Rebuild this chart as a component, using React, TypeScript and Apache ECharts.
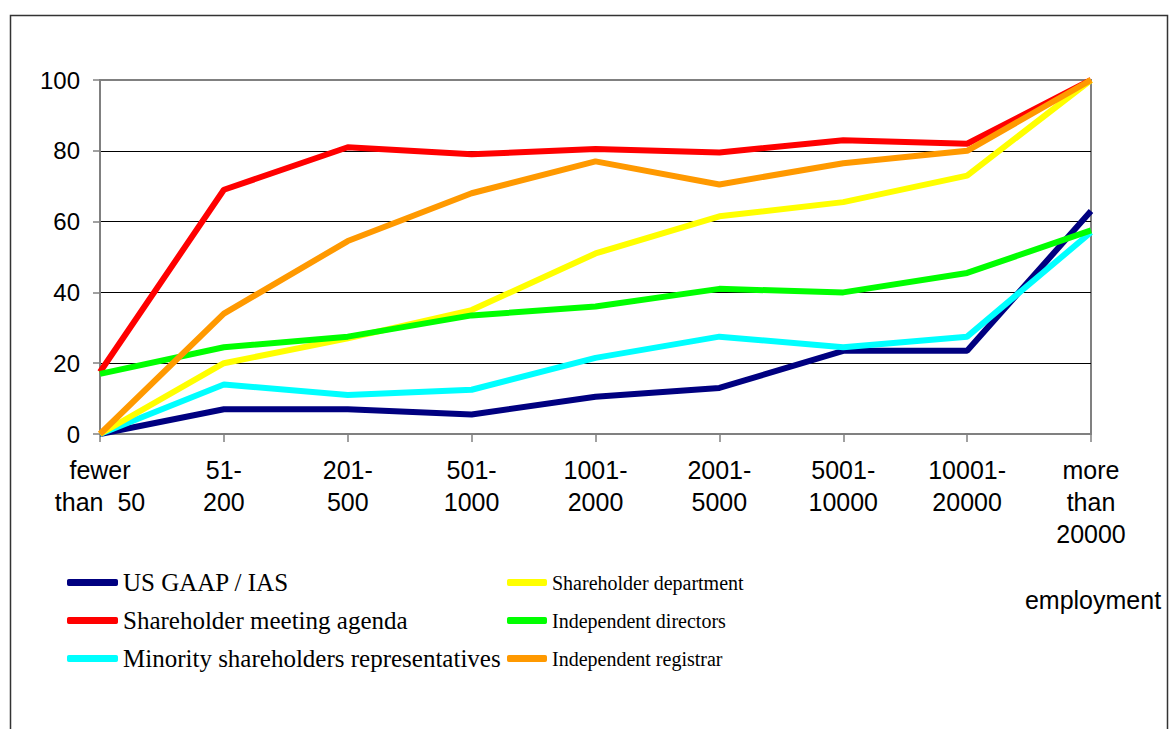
import React, { useEffect, useRef } from "react";
import * as echarts from "echarts";

const categories = [
  "fewer\nthan  50",
  "51-\n200",
  "201-\n500",
  "501-\n1000",
  "1001-\n2000",
  "2001-\n5000",
  "5001-\n10000",
  "10001-\n20000",
  "more\nthan\n20000",
];
const usGaap = [0, 7, 7, 5.5, 10.5, 13, 23.5, 23.5, 63];
const meetingAgenda = [17.5, 69, 81, 79, 80.5, 79.5, 83, 82, 100];
const minorityReps = [0, 14, 11, 12.5, 21.5, 27.5, 24.5, 27.5, 57];
const shareholderDept = [0, 20, 27, 35, 51, 61.5, 65.5, 73, 100];
const independentDirectors = [17, 24.5, 27.5, 33.5, 36, 41, 40, 45.5, 57.5];
const independentRegistrar = [0, 34, 54.5, 68, 77, 70.5, 76.5, 80, 100];
const yTicks = { min: 0, max: 100, interval: 20 };

export default function App() {
  const ref = useRef<HTMLDivElement>(null);
  useEffect(() => {
    if (!ref.current) return;
    const chart = echarts.init(ref.current, null, { renderer: "svg" });
    const mk = (name: string, data: number[], color: string) => ({
      name,
      type: "line",
      data,
      color,
      symbol: "none",
      showSymbol: false,
      lineStyle: { width: 6, color },
      itemStyle: { color },
      z: 2,
    });
    const legendText = (size: number) => ({
      fontFamily: "Liberation Serif",
      fontSize: size,
      color: "#000",
      lineHeight: 25,
    });
    chart.setOption({
      animation: false,
      backgroundColor: "#fff",
      grid: {
        left: 100,
        top: 80,
        right: 78,
        bottom: 295,
        show: true,
        borderColor: "#808080",
        borderWidth: 2,
      },
      xAxis: {
        type: "category",
        data: categories,
        boundaryGap: false,
        axisLine: { lineStyle: { color: "#808080", width: 2 } },
        axisTick: { show: true, length: 8, lineStyle: { color: "#808080", width: 1.5 } },
        axisLabel: {
          color: "#000",
          fontFamily: "Liberation Sans",
          fontSize: 25,
          lineHeight: 32,
          margin: 20,
          interval: 0,
        },
        splitLine: { show: false },
      },
      yAxis: {
        type: "value",
        min: yTicks.min,
        max: yTicks.max,
        interval: yTicks.interval,
        axisLine: { show: true, lineStyle: { color: "#808080", width: 2 } },
        axisTick: { show: true, length: 7, lineStyle: { color: "#808080", width: 1.5 } },
        axisLabel: {
          color: "#000",
          fontFamily: "Liberation Sans",
          fontSize: 24,
          margin: 20,
        },
        splitLine: {
          show: true,
          lineStyle: {
            color: ["#808080", "#000", "#000", "#000", "#000", "#808080"],
            width: 1,
          },
        },
      },
      legend: [
        {
          orient: "vertical",
          left: 67,
          top: 570,
          padding: 0,
          itemWidth: 51,
          itemHeight: 7,
          itemGap: 13,
          icon: "roundRect",
          textStyle: legendText(25),
          data: ["US GAAP / IAS", "Shareholder meeting agenda", "Minority shareholders representatives"],
        },
        {
          orient: "vertical",
          left: 507,
          top: 570,
          padding: 0,
          itemWidth: 40,
          itemHeight: 7,
          itemGap: 13,
          icon: "roundRect",
          textStyle: legendText(20),
          data: ["Shareholder department", "Independent directors", "Independent registrar"],
        },
      ],
      graphic: [
        {
          type: "rect",
          shape: { x: 10.5, y: 15.5, width: 1157, height: 740 },
          style: { fill: "none", stroke: "#333", lineWidth: 1.5 },
          silent: true,
        },
        {
          type: "text",
          x: 1093,
          y: 600,
          style: {
            text: "employment",
            fontFamily: "Liberation Sans",
            fontSize: 25,
            fill: "#000",
            align: "center",
            verticalAlign: "middle",
          },
        },
      ],
      series: [
        mk("US GAAP / IAS", usGaap, "#000080"),
        mk("Shareholder meeting agenda", meetingAgenda, "#ff0000"),
        mk("Minority shareholders representatives", minorityReps, "#00ffff"),
        mk("Shareholder department", shareholderDept, "#ffff00"),
        mk("Independent directors", independentDirectors, "#00ff00"),
        mk("Independent registrar", independentRegistrar, "#ff9900"),
      ],
    });
    return () => chart.dispose();
  }, []);
  return (
    <div
      ref={ref}
      style={{ position: "fixed", left: 0, top: 0, width: 1169, height: 729 }}
    />
  );
}
